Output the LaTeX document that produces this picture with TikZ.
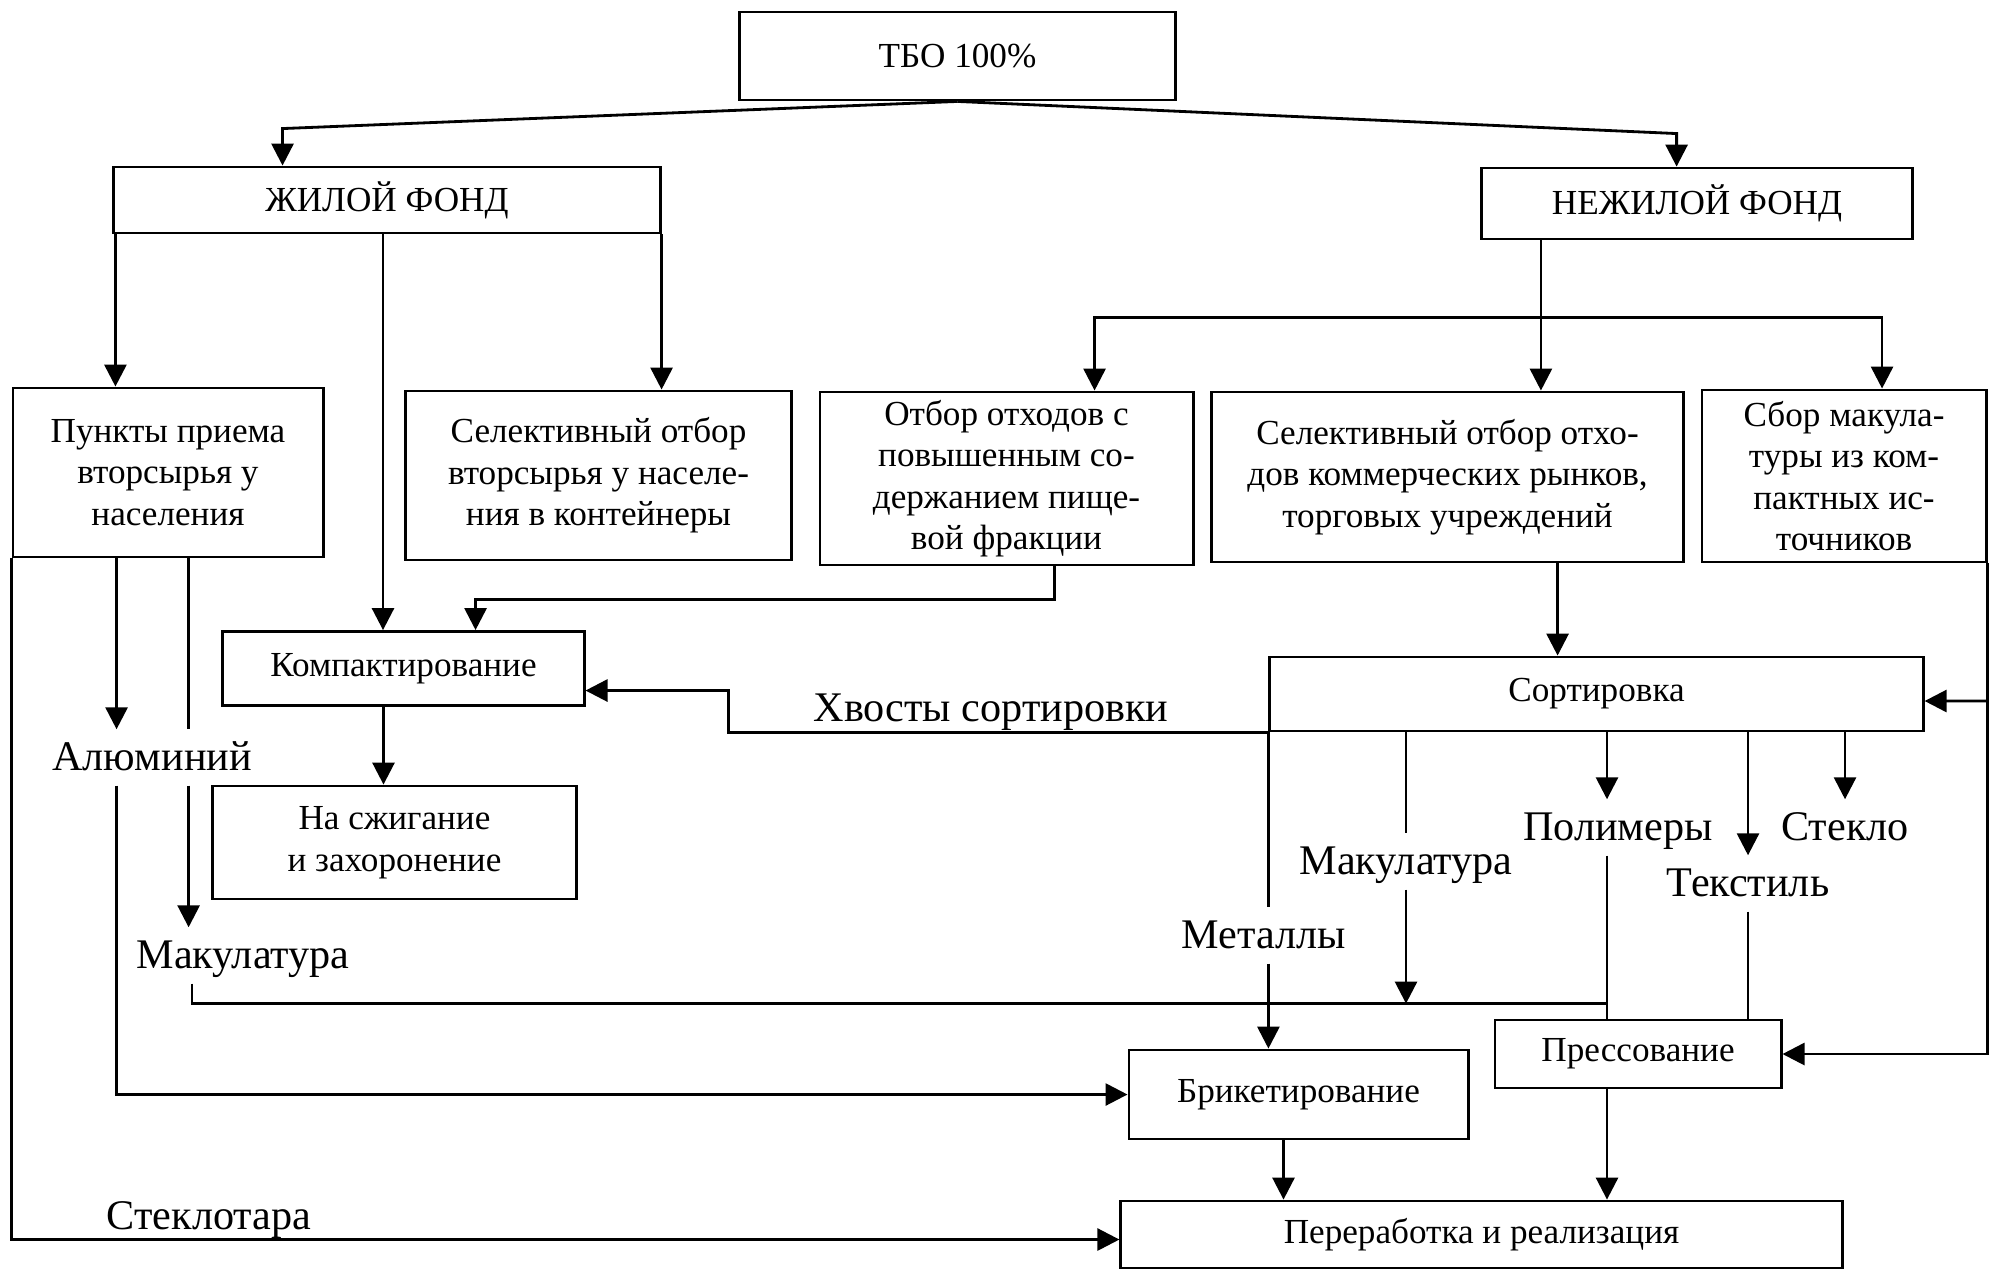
\documentclass[tikz,border=0pt]{standalone}
\usepackage{fontspec}
\setmainfont{Liberation Serif}
\usetikzlibrary{arrows.meta}
\tikzstyle{block} = [draw, line width=0.8pt, align=center, inner sep=2pt, font=\fontsize{10}{11.8}\selectfont]
\tikzstyle{lbl}   = [inner sep=0pt, anchor=base, text height=4mm, text depth=1.5mm, font=\fontsize{12}{14}\selectfont]
\tikzstyle{line}  = [line width=0.8pt]
\tikzstyle{arrow} = [line width=0.8pt, -{Triangle[length=2.2mm,width=2.2mm]}]

\begin{document}
\begin{tikzpicture}[x=0.01cm, y=-0.01cm]
	\useasboundingbox (0,0) rectangle (1989,1272);

	\node[block, minimum width=4.35cm, minimum height=0.88cm] (tbo) at (957.5,56) {ТБО 100\%};
	\node[block, minimum width=5.46cm, minimum height=0.66cm] (zhil) at (387,200) {ЖИЛОЙ ФОНД};
	\node[block, minimum width=4.30cm, minimum height=0.71cm] (nezhil) at (1697,203.5) {НЕЖИЛОЙ ФОНД};

	\node[block, minimum width=3.10cm, minimum height=1.69cm] (punkty) at (168,472.5) {Пункты приема\\вторсырья у\\населения};
	\node[block, minimum width=3.85cm, minimum height=1.69cm] (selzh) at (598.5,475.5) {Селективный отбор\\вторсырья у населе-\\ния в контейнеры};
	\node[block, minimum width=3.73cm, minimum height=1.73cm] (otbor) at (1006.5,478.5) {Отбор отходов с\\повышенным со-\\держанием пище-\\вой фракции};
	\node[block, minimum width=4.71cm, minimum height=1.70cm] (selnz) at (1447.5,477) {Селективный отбор отхо-\\дов коммерческих рынков,\\торговых учреждений};
	\node[block, minimum width=2.84cm, minimum height=1.72cm] (sbor) at (1844,476) {Сбор макула-\\туры из ком-\\пактных ис-\\точников};

	\node[block, minimum width=3.61cm, minimum height=0.74cm] (komp) at (403.5,668.5) {Компактирование};
	\node[block, minimum width=3.63cm, minimum height=1.13cm] (szhig) at (394.5,842.5) {На сжигание\\и захоронение};
	\node[block, minimum width=6.53cm, minimum height=0.74cm] (sort) at (1596.5,694) {Сортировка};
	\node[block, minimum width=3.39cm, minimum height=0.89cm] (brik) at (1298.5,1094.5) {Брикетирование};
	\node[block, minimum width=2.86cm, minimum height=0.68cm] (press) at (1638,1054) {Прессование};
	\node[block, minimum width=7.21cm, minimum height=0.67cm] (pererab) at (1481.5,1234.5) {Переработка и реализация};

	\node[lbl] (alum) at (152,770) {Алюминий};
	\node[lbl] (mak1) at (243,968) {Макулатура};
	\node[lbl] (steklotara) at (209,1229) {Стеклотара};
	\node[lbl] (xvost) at (991,721) {Хвосты сортировки};
	\node[lbl] (maku2) at (1406,874) {Макулатура};
	\node[lbl] (polym) at (1618,840) {Полимеры};
	\node[lbl] (steklo) at (1845,840) {Стекло};
	\node[lbl] (textil) at (1748,896) {Текстиль};
	\node[lbl] (metal) at (1264,948) {Металлы};

	\coordinate (nzfork) at ([xshift=-1.56cm,yshift=-0.77cm]nezhil.south);
	\coordinate (pj) at ([xshift=-0.31cm,yshift=0.15cm]press.north);

	\draw[arrow] (tbo.south) -- ([xshift=1.70cm,yshift=0.37cm]zhil.north west) -- ([xshift=1.70cm]zhil.north west);
	\draw[arrow] (tbo.south) -- ([xshift=1.96cm,yshift=0.33cm]nezhil.north west) -- ([xshift=1.96cm]nezhil.north west);

	\draw[arrow] ([xshift=0.03cm]zhil.south west) -- ([xshift=0.03cm]zhil.south west |- punkty.north);
	\draw[arrow] (zhil.south east) -- (zhil.south east |- selzh.north);
	\draw[arrow] ([xshift=-0.04cm]zhil.south) -- ([xshift=-0.04cm]zhil.south |- komp.north);
	\draw[arrow] ([xshift=0.48cm]otbor.south) -- ([xshift=0.48cm,yshift=-0.33cm]otbor.south) -| ([xshift=0.72cm]komp.north);

	\draw[line] ([xshift=-1.56cm]nezhil.south) -- (nzfork);
	\draw[arrow] (nzfork) -- (nzfork |- selnz.north);
	\draw[arrow] (nzfork) -| ([xshift=0.88cm]otbor.north);
	\draw[arrow] (nzfork) -| ([xshift=0.38cm]sbor.north);

	\draw[arrow] ([xshift=1.10cm]selnz.south) -- ([xshift=1.10cm]selnz.south |- sort.north);
	\draw[arrow] (sbor.south east) |- (press.east);
	\draw[arrow] (sbor.south east |- sort.east) ++(0,7) -- ([yshift=-0.07cm]sort.east);

	\draw[arrow] (sort.south west) -- ++(-540,0) |- ([yshift=-0.22cm]komp.east);
	\draw[arrow] ([xshift=-0.2cm]komp.south) -- ([xshift=-0.2cm]komp.south |- szhig.north);

	\draw[line] (sort.south west) -- (sort.south west |- metal.north);
	\draw[arrow] (sort.south west |- metal.south) -- (sort.south west |- brik.north);
	\draw[line] (maku2.north |- sort.south) -- (maku2.north);
	\draw[arrow] (maku2.south) -- (maku2.south |- pj);
	\draw[arrow] (pj |- sort.south) -- (pj |- polym.north);
	\draw[line] (pj |- polym.south) -- (pj |- press.north);
	\draw[arrow] (textil.north |- sort.south) -- (textil.north);
	\draw[line] (textil.south) -- (textil.south |- press.north);
	\draw[arrow] (steklo.north |- sort.south) -- (steklo.north);

	\draw[arrow] ([xshift=1.05cm]punkty.south west) -- ([xshift=1.05cm]punkty.south west |- alum.north);
	\draw[arrow] ([xshift=1.05cm]punkty.south west |- alum.south) |- (brik.west);
	\draw[line] ([xshift=1.77cm]punkty.south west) -- ([xshift=1.77cm]punkty.south west |- alum.north);
	\draw[arrow] ([xshift=1.77cm]punkty.south west |- alum.south) -- ([xshift=1.77cm]punkty.south west |- mak1.north);
	\draw[line] ([xshift=-0.51cm]mak1.south) |- (pj);
	\draw[arrow] (punkty.south west) |- ([yshift=-0.05cm]pererab.west);

	\draw[arrow] ([xshift=-0.15cm]brik.south) -- ([xshift=-0.15cm]brik.south |- pererab.north);
	\draw[arrow] (pj |- press.south) -- (pj |- pererab.north);
\end{tikzpicture}
\end{document}
